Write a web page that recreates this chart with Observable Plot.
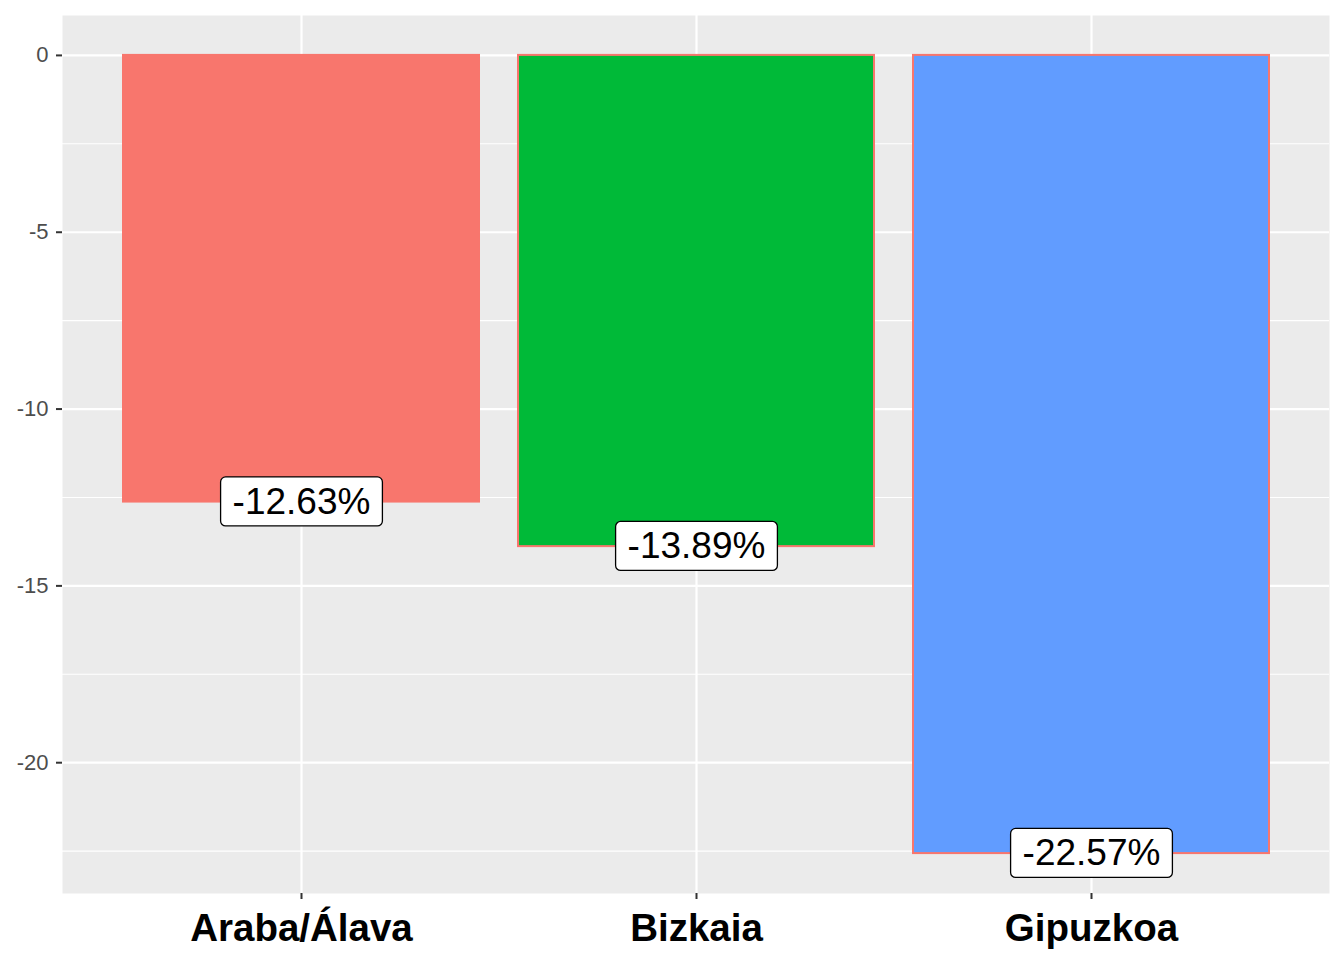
<!DOCTYPE html>
<html>
<head>
<meta charset="utf-8">
<script src="https://cdn.jsdelivr.net/npm/d3@7"></script>
<script src="https://cdn.jsdelivr.net/npm/@observablehq/plot@0.6"></script>
<style>
  html, body { margin: 0; padding: 0; background: #ffffff; }
  #chart { width: 1344px; height: 960px; }
  svg { font-family: "Liberation Sans", Arial, Helvetica, sans-serif; }
</style>
</head>
<body>
<div id="chart"></div>
<script>
const provinces = ["Araba/Álava", "Bizkaia", "Gipuzkoa"];
const values = [-12.63, -13.89, -22.57];
const fills = ["#F8766D", "#00BA38", "#619CFF"];
const outline = "#F8766D";
const majorTicks = [0, -5, -10, -15, -20];
const minorTicks = [-2.5, -7.5, -12.5, -17.5, -22.5];

const data = provinces.map((p, i) => ({
  province: p,
  value: values[i],
  fill: fills[i],
  label: values[i].toFixed(2) + "%"
}));

const yMin = Math.min(...values, 0), yMax = Math.max(...values, 0);
const pad = (yMax - yMin) * 0.05;

const svg = Plot.plot({
  width: 1344,
  height: 960,
  marginLeft: 62,
  marginRight: 15,
  marginTop: 15,
  marginBottom: 67,
  style: { background: "#ffffff", fontFamily: "'Liberation Sans', Arial, Helvetica, sans-serif" },
  x: { domain: provinces, paddingInner: 0.1, paddingOuter: 0.15, label: null },
  y: { domain: [yMin - pad, yMax + pad], label: null },
  marks: [
    Plot.frame({ fill: "#EBEBEB", stroke: null }),
    Plot.gridY(minorTicks, { stroke: "#ffffff", strokeOpacity: 1, strokeWidth: 1.1 }),
    Plot.gridY(majorTicks, { stroke: "#ffffff", strokeOpacity: 1, strokeWidth: 2.2 }),
    Plot.gridX(provinces, { stroke: "#ffffff", strokeOpacity: 1, strokeWidth: 2.2 }),
    Plot.barY(data, {
      x: "province", y1: 0, y2: "value",
      fill: d => d.fill, stroke: outline, strokeWidth: 2,
      insetLeft: 0, insetRight: 0
    }),
    Plot.axisY(majorTicks, {
      tickSize: 6, tickPadding: 8, stroke: "#333333", strokeWidth: 2,
      fontSize: 22, fill: "#4D4D4D", tickFormat: d => String(d), label: null
    }),
    Plot.axisX({
      tickSize: 6, tickPadding: 14, stroke: "#333333", strokeWidth: 2,
      fontSize: 38.5, fontWeight: "bold", fill: "#000000", label: null
    }),
    Plot.text(data, {
      x: "province", y: "value", text: "label",
      fontSize: 37, fill: "#000000", ariaLabel: "value-labels"
    })
  ]
});

document.getElementById("chart").appendChild(svg);

// Draw rounded label boxes behind the value labels, sized from the rendered text
let labelGroup = svg.querySelector('g[aria-label="value-labels"]') || svg.querySelector('g[aria-label="text"]');
if (labelGroup) {
  const texts = Array.from(labelGroup.querySelectorAll("text"));
  texts.forEach(t => {
    const b = t.getBBox();
    const padX = 12, padY = 4;
    const r = document.createElementNS("http://www.w3.org/2000/svg", "rect");
    r.setAttribute("x", b.x - padX);
    r.setAttribute("y", b.y - padY);
    r.setAttribute("width", b.width + 2 * padX);
    r.setAttribute("height", b.height + 2 * padY);
    r.setAttribute("rx", 5);
    r.setAttribute("ry", 5);
    r.setAttribute("fill", "#ffffff");
    r.setAttribute("stroke", "#000000");
    r.setAttribute("stroke-width", 1.3);
    const tr = t.getAttribute("transform");
    if (tr) r.setAttribute("transform", tr);
    t.parentNode.insertBefore(r, t);
  });
}
</script>
</body>
</html>
